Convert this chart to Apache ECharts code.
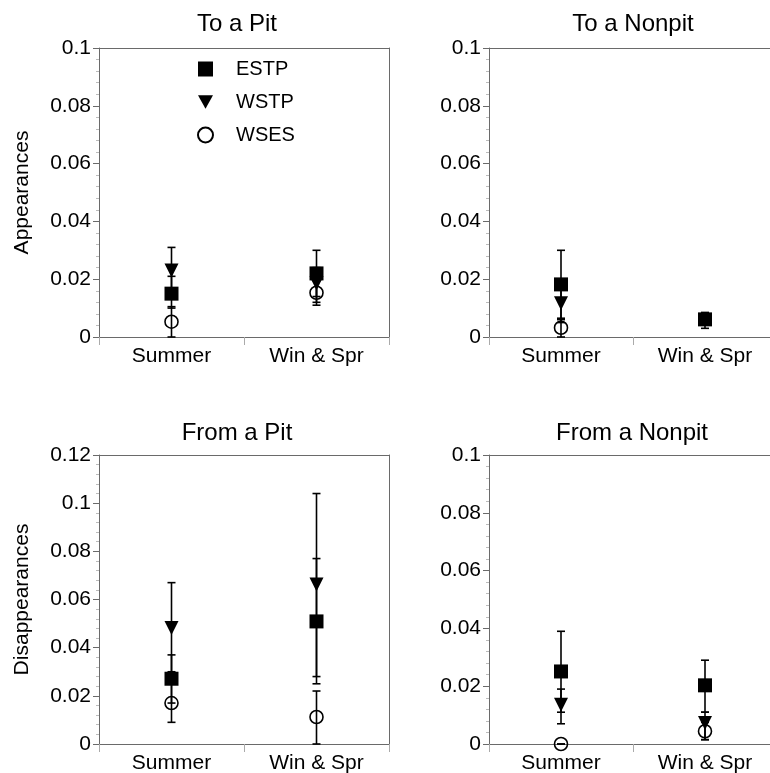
<!DOCTYPE html>
<html>
<head>
<meta charset="UTF-8" />
<title>Appearances / Disappearances</title>
<style>
  html, body { margin: 0; padding: 0; background: #fff; }
  #main { width: 770px; height: 773px; }
</style>
</head>
<body>
<div id="main"></div>
<script src="https://cdn.jsdelivr.net/npm/echarts@6/dist/echarts.min.js"></script>
<script>
// categories and groups
var categories = ['Summer', 'Win & Spr']
var groups = ['ESTP', 'WSTP', 'WSES']
var panelTitles = ['To a Pit', 'To a Nonpit', 'From a Pit', 'From a Nonpit']
var yMax = [0.1, 0.1, 0.12, 0.1]

// rows: ESTP, WSTP, WSES ; columns: Summer, Win & Spr
var toPitMean = [[0.015, 0.022], [0.023, 0.0186], [0.0053, 0.0153]]
var toPitLow = [[0.010, 0.014], [0.016, 0.012], [0, 0.011]]
var toPitHigh = [[0.021, 0.030], [0.031, 0.024], [0.0105, 0.0195]]

var toNonpitMean = [[0.0182, 0.0061], [0.0117, null], [0.0032, null]]
var toNonpitLow = [[0.006, 0.003], [0.005, null], [0, null]]
var toNonpitHigh = [[0.030, 0.0085], [0.018, null], [0.0065, null]]

var fromPitMean = [[0.0271, 0.0509], [0.0482, 0.0662], [0.017, 0.0112]]
var fromPitLow = [[0.017, 0.025], [0.030, 0.028], [0.009, 0]]
var fromPitHigh = [[0.037, 0.077], [0.067, 0.104], [0.025, 0.022]]

var fromNonpitMean = [[0.0251, 0.0203], [0.0136, 0.0073], [0, 0.0044]]
var fromNonpitLow = [[0.011, 0.011], [0.007, 0.0015], [0, 0.0015]]
var fromNonpitHigh = [[0.039, 0.029], [0.019, 0.011], [0, 0.0075]]

var means = [toPitMean, toNonpitMean, fromPitMean, fromNonpitMean]
var lows = [toPitLow, toNonpitLow, fromPitLow, fromNonpitLow]
var highs = [toPitHigh, toNonpitHigh, fromPitHigh, fromNonpitHigh]

var font = 'Liberation Sans, Arial, sans-serif'
var axisColor = '#6a6a6a'

var grids = [
  { left: 99, top: 48, width: 290, height: 289 },
  { left: 489, top: 48, width: 288, height: 289 },
  { left: 99, top: 455, width: 290, height: 289 },
  { left: 489, top: 455, width: 288, height: 289 }
]
var titleCenters = [[237, 12], [633, 12], [237, 421], [632, 421]]
var yNames = ['Appearances', '', 'Disappearances', '']

var symbols = [
  { symbol: 'rect', size: 14, rotate: 0, style: { color: '#000', opacity: 1 } },
  { symbol: 'triangle', size: 14, rotate: 180, style: { color: '#000', opacity: 1 } },
  { symbol: 'circle', size: 13, rotate: 0, style: { color: 'rgba(0,0,0,0)', borderColor: '#000', borderWidth: 1.6, opacity: 1 } }
]

var myChart = echarts.init(document.getElementById('main'))

var xAxes = [], yAxes = [], series = [], titles = []
var frameX = [], frameY = []
grids.forEach(function (g, p) {
  g.show = false
  g.outerBoundsMode = 'none'
  g.containLabel = false
  titles.push({
    text: panelTitles[p],
    left: titleCenters[p][0],
    top: titleCenters[p][1],
    textAlign: 'center',
    padding: 0,
    textStyle: { fontFamily: font, fontSize: 24, fontWeight: 'normal', color: '#000' }
  })
  xAxes.push({
    type: 'category',
    gridIndex: p,
    data: categories,
    boundaryGap: true,
    axisLine: { onZero: false, lineStyle: { color: axisColor, width: 1 } },
    axisTick: { show: true, length: 8, interval: 0, lineStyle: { color: '#aaa' } },
    axisLabel: { fontFamily: font, fontSize: 21, color: '#000', margin: 9, interval: 0 },
    splitLine: { show: false }
  })
  yAxes.push({
    type: 'value',
    gridIndex: p,
    min: 0,
    max: yMax[p],
    interval: 0.02,
    name: yNames[p],
    nameLocation: 'middle',
    nameGap: 66,
    nameTextStyle: { fontFamily: font, fontSize: 21, color: '#000' },
    axisLine: { show: true, onZero: false, lineStyle: { color: axisColor, width: 1 } },
    axisTick: { show: true, length: 6, lineStyle: { color: axisColor } },
    minorTick: { show: true, splitNumber: 5, length: 3, lineStyle: { color: '#bbb' } },
    axisLabel: { fontFamily: font, fontSize: 21, color: '#000', margin: 8 },
    splitLine: { show: false }
  })
  // frame: top line on every panel, right line where it fits
  frameX.push({
    type: 'category', gridIndex: p, position: 'top', data: categories,
    axisLine: { onZero: false, lineStyle: { color: axisColor, width: 1 } },
    axisTick: { show: false }, axisLabel: { show: false }, splitLine: { show: false }
  })
  if (p % 2 === 0) {
    frameY.push({
      type: 'value', gridIndex: p, position: 'right', min: 0, max: yMax[p], interval: 0.02,
      axisLine: { show: true, onZero: false, lineStyle: { color: axisColor, width: 1 } },
      axisTick: { show: false }, axisLabel: { show: false }, splitLine: { show: false }
    })
  }

  // error bars
  var errData = []
  groups.forEach(function (name, s) {
    for (var c = 0; c < categories.length; c++) {
      if (means[p][s][c] !== null) errData.push([c, lows[p][s][c], highs[p][s][c]])
    }
  })
  series.push({
    type: 'custom',
    xAxisIndex: p,
    yAxisIndex: p,
    z: 5,
    clip: false,
    silent: true,
    encode: { x: 0, y: [1, 2] },
    data: errData,
    renderItem: function (params, api) {
      var lo = api.coord([api.value(0), api.value(1)])
      var hi = api.coord([api.value(0), api.value(2)])
      var hw = 4
      var st = { stroke: '#000', lineWidth: 1.6 }
      return {
        type: 'group',
        children: [
          { type: 'line', shape: { x1: lo[0], y1: lo[1], x2: hi[0], y2: hi[1] }, style: st },
          { type: 'line', shape: { x1: hi[0] - hw, y1: hi[1], x2: hi[0] + hw, y2: hi[1] }, style: st },
          { type: 'line', shape: { x1: lo[0] - hw, y1: lo[1], x2: lo[0] + hw, y2: lo[1] }, style: st }
        ]
      }
    }
  })

  // markers
  groups.forEach(function (name, s) {
    series.push({
      name: name,
      type: 'scatter',
      xAxisIndex: p,
      yAxisIndex: p,
      z: 4,
      symbol: symbols[s].symbol,
      symbolSize: symbols[s].size,
      symbolRotate: symbols[s].rotate,
      itemStyle: symbols[s].style,
      clip: false,
      data: means[p][s]
    })
  })
})

var option = {
  backgroundColor: '#fff',
  animation: false,
  title: titles,
  legend: {
    data: [
      { name: 'ESTP', icon: 'rect' },
      { name: 'WSTP', icon: 'path://M0,0 L10,0 L5,9 Z' },
      { name: 'WSES', icon: 'circle' }
    ],
    orient: 'vertical',
    left: 197,
    top: 59,
    padding: 0,
    itemGap: 13,
    itemWidth: 15,
    itemHeight: 15,
    selectedMode: false,
    textStyle: { fontFamily: font, fontSize: 20, color: '#000', padding: [0, 0, 0, 18] }
  },
  grid: grids,
  xAxis: xAxes.concat(frameX),
  yAxis: yAxes.concat(frameY),
  series: series
}
myChart.setOption(option)
</script>
</body>
</html>
